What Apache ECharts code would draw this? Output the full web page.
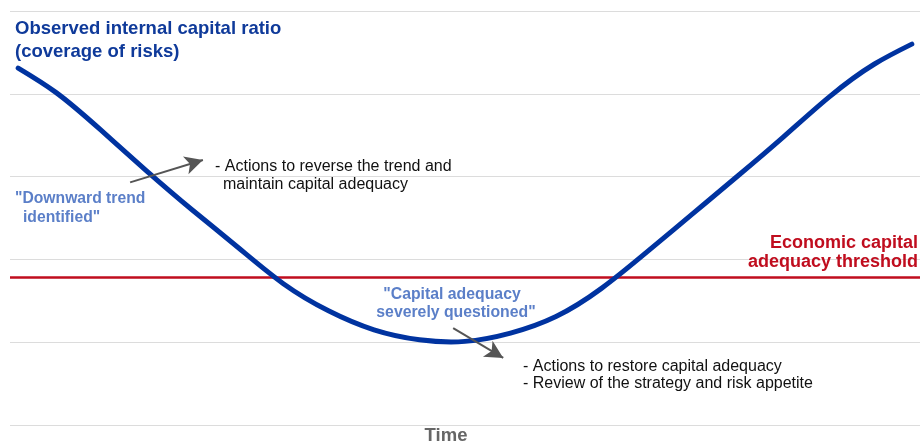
<!DOCTYPE html>
<html>
<head>
<meta charset="utf-8">
<script src="https://cdn.jsdelivr.net/npm/echarts@6/dist/echarts.min.js"></script>
<style>html,body{margin:0;padding:0;background:#fff}#c{width:923px;height:443px}</style>
</head>
<body>
<div id="c"></div>
<script>
// Time position (0-100) and observed internal capital ratio (arbitrary units)
const timePos = [0.9, 5, 10, 15, 20, 25, 30, 35, 40, 45, 50, 55, 60, 65, 70, 75, 80, 85, 90, 95, 99.1];
const ratio   = [4.31, 4.02, 3.56, 3.07, 2.60, 2.15, 1.71, 1.38, 1.15, 1.03, 1.01, 1.11, 1.31, 1.65, 2.09, 2.55, 3.01, 3.48, 3.96, 4.36, 4.60];
const threshold = 1.79;
// annotation arrows: [startTime, startValue, endTime, endValue]
const arrow1 = [13.2, 2.93, 21.2, 3.20];
const arrow2 = [48.7, 1.17, 54.2, 0.81];

const FONT = "'Liberation Sans', Arial, sans-serif";
const chart = echarts.init(document.getElementById('c'), null, {renderer: 'canvas'});

function txt(x, y, text, size, color, weight, align) {
  return {type: 'text', x: x, y: y, silent: true, z: 100,
    style: {text: text, fill: color, font: (weight || 'normal') + ' ' + size + 'px ' + FONT,
      textAlign: align || 'left', textVerticalAlign: 'middle'}};
}

// natural cubic spline through all data points, positions taken from the axes (api.coord)
function renderCurve(params, api) {
  if (params.dataIndex !== 0) return null;
  const pts = timePos.map((t, i) => api.coord([t, ratio[i]]));
  const n = pts.length - 1;
  const x = pts.map(p => p[0]), y = pts.map(p => p[1]);
  const h = [];
  for (let i = 0; i < n; i++) h.push(x[i + 1] - x[i]);
  // tridiagonal solve for second derivatives M (natural: M0 = Mn = 0)
  const a = [], b = [], c = [], r = [];
  for (let i = 1; i < n; i++) {
    a.push(h[i - 1]); b.push(2 * (h[i - 1] + h[i])); c.push(h[i]);
    r.push(6 * ((y[i + 1] - y[i]) / h[i] - (y[i] - y[i - 1]) / h[i - 1]));
  }
  const m = a.length;
  for (let i = 1; i < m; i++) {
    const w = a[i] / b[i - 1];
    b[i] -= w * c[i - 1]; r[i] -= w * r[i - 1];
  }
  const Mi = new Array(m);
  for (let i = m - 1; i >= 0; i--) Mi[i] = (r[i] - (i < m - 1 ? c[i] * Mi[i + 1] : 0)) / b[i];
  const M = [0].concat(Mi, [0]);
  let d = 'M' + x[0] + ' ' + y[0];
  for (let i = 0; i < n; i++) {
    const s = (y[i + 1] - y[i]) / h[i];
    const d0 = s - h[i] * (2 * M[i] + M[i + 1]) / 6;
    const d1 = s + h[i] * (M[i] + 2 * M[i + 1]) / 6;
    d += ' C' + (x[i] + h[i] / 3) + ' ' + (y[i] + d0 * h[i] / 3) + ' ' +
         (x[i + 1] - h[i] / 3) + ' ' + (y[i + 1] - d1 * h[i] / 3) + ' ' + x[i + 1] + ' ' + y[i + 1];
  }
  return {type: 'path', shape: {pathData: d},
    style: {fill: 'none', stroke: '#0033a0', lineWidth: 5, lineCap: 'round', lineJoin: 'round'}};
}

const option = {
  animation: false,
  grid: {left: 10, right: 3, top: 11, bottom: 18},
  xAxis: {type: 'value', min: 0, max: 100, axisLine: {show: false}, axisTick: {show: false},
    axisLabel: {show: false}, splitLine: {show: false}},
  yAxis: {type: 'value', min: 0, max: 5, interval: 1, axisLine: {show: false}, axisTick: {show: false},
    axisLabel: {show: false}, splitLine: {show: true, lineStyle: {color: '#dcdcdc', width: 1}}},
  series: [
    {type: 'line', data: [], markLine: {silent: true, symbol: 'none', label: {show: false},
        lineStyle: {color: '#c00d1e', width: 2.5, type: 'solid'}, z: 3,
        data: [{yAxis: threshold}]}},
    {type: 'custom', data: timePos.map((t, i) => [t, ratio[i]]), renderItem: renderCurve, z: 5, silent: true,
      clip: false},
    {type: 'line', data: [], markLine: {silent: true, symbol: ['none', 'arrow'], symbolSize: [14, 18],
      label: {show: false}, lineStyle: {color: '#555', width: 2, type: 'solid'}, z: 8,
      data: [
        [{coord: [arrow1[0], arrow1[1]]}, {coord: [arrow1[2], arrow1[3]]}],
        [{coord: [arrow2[0], arrow2[1]]}, {coord: [arrow2[2], arrow2[3]]}]
      ]}}
  ],
  graphic: [
    txt(15, 29, 'Observed internal capital ratio', 18.5, '#0f3a9a', 'bold'),
    txt(15, 52, '(coverage of risks)', 18.5, '#0f3a9a', 'bold'),
    txt(15, 199, '"Downward trend', 15.7, '#5b7fc8', 'bold'),
    txt(23, 218, 'identified"', 15.7, '#5b7fc8', 'bold'),
    txt(215, 167, '- Actions to reverse the trend and', 16, '#111', 'normal'),
    txt(223, 185, 'maintain capital adequacy', 16, '#111', 'normal'),
    txt(452, 295, '"Capital adequacy', 15.8, '#5b7fc8', 'bold', 'center'),
    txt(456, 313, 'severely questioned"', 15.8, '#5b7fc8', 'bold', 'center'),
    txt(523, 367, '- Actions to restore capital adequacy', 16, '#111', 'normal'),
    txt(523, 384, '- Review of the strategy and risk appetite', 16, '#111', 'normal'),
    txt(918, 243, 'Economic capital', 18, '#c00d1e', 'bold', 'right'),
    txt(918, 262, 'adequacy threshold', 18, '#c00d1e', 'bold', 'right'),
    txt(446, 436, 'Time', 18.5, '#666', 'bold', 'center')
  ]
};
chart.setOption(option);
</script>
</body>
</html>
